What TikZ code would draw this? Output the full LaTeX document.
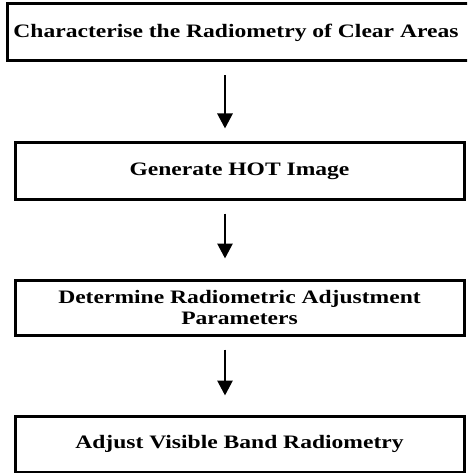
\documentclass[tikz,border=0pt]{standalone}
\usepackage{fontspec}
\setmainfont{Liberation Serif}[FakeStretch=1.24]
\usetikzlibrary{arrows.meta}
\begin{document}
\begin{tikzpicture}[x=1pt,y=1pt,
  txt/.style={font=\fontsize{19}{20.5}\selectfont\bfseries},
  stepbox/.style={draw=black, line width=3pt, inner sep=0pt, align=center, txt},
  arr/.style={line width=2.8pt, -{Triangle[width=15pt,length=15pt]}}]
\useasboundingbox (0,0) rectangle (467,-473);
\clip (0,0) rectangle (467,-473);
\node[stepbox, minimum width=462.5pt, minimum height=57pt] (a) at (238.75,-32.5) {};
\node[txt] (at) at (236,-33) {Characterise the Radiometry of Clear Areas};
\node[stepbox, minimum width=449pt, minimum height=56pt] (b) at (239.5,-171) {Generate HOT Image};
\node[stepbox, minimum width=449pt, minimum height=55pt] (c) at (239.5,-307.5) {Determine Radiometric Adjustment\\Parameters};
\node[stepbox, minimum width=449pt, minimum height=56pt] (d) at (239.5,-444) {Adjust Visible Band Radiometry};
\coordinate (ax) at (225,0);
\draw[arr, shorten <=13pt, shorten >=13pt] (a.south -| ax) -- (b.north -| ax);
\draw[arr, shorten <=13pt, shorten >=20pt] (b.south -| ax) -- (c.north -| ax);
\draw[arr, shorten <=13pt, shorten >=19pt] (c.south -| ax) -- (d.north -| ax);
\end{tikzpicture}
\end{document}
